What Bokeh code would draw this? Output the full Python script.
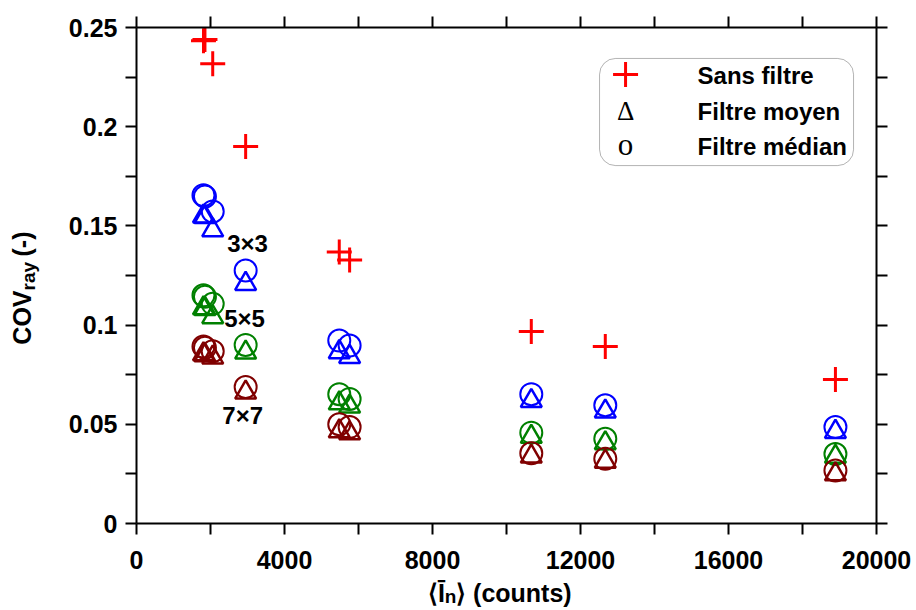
import math
from bokeh.plotting import figure
from bokeh.layouts import row, column
from bokeh.models import (Range1d, LinearAxis, FixedTicker, CustomJSTickFormatter,
                          Label, BoxAnnotation)
from bokeh.core.properties import value
from bokeh.embed import file_html
from bokeh.resources import INLINE

# ---------------- data ----------------
intensity = [1810, 1850, 2060, 2950, 5480, 5760, 10670, 12670, 18890]

cov_sans_filtre = [0.2433, 0.2440, 0.2317, 0.1900, 0.1368, 0.1328, 0.0968, 0.0892, 0.0726]

cov_median_3x3 = [0.1655, 0.1648, 0.1573, 0.1275, 0.0922, 0.0897, 0.0652, 0.0596, 0.0486]
cov_moyen_3x3 = [0.1548, 0.1545, 0.1478, 0.1208, 0.0864, 0.0840, 0.0618, 0.0565, 0.0462]

cov_median_5x5 = [0.1150, 0.1143, 0.1107, 0.0900, 0.0652, 0.0628, 0.0458, 0.0427, 0.0350]
cov_moyen_5x5 = [0.1085, 0.1082, 0.1040, 0.0862, 0.0606, 0.0590, 0.0437, 0.0405, 0.0337]

cov_median_7x7 = [0.0892, 0.0886, 0.0868, 0.0688, 0.0500, 0.0486, 0.0354, 0.0326, 0.0267]
cov_moyen_7x7 = [0.0853, 0.0848, 0.0837, 0.0660, 0.0465, 0.0455, 0.0338, 0.0312, 0.0248]

x_ticks = [0, 4000, 8000, 12000, 16000, 20000]
x_minor = [2000, 6000, 10000, 14000, 18000]
y_ticks = [0, 0.05, 0.1, 0.15, 0.2, 0.25]
y_minor = [0.025, 0.075, 0.125, 0.175, 0.225]

legend_labels = ["Sans filtre", "Filtre moyen", "Filtre médian"]
size_labels = ["3×3", "5×5", "7×7"]

# ---------------- styling ----------------
FONT = "Liberation Sans"
BLUE, GREEN, DARKRED, RED = "#0000ff", "#008000", "#800000", "#ff0000"

YLAB_W = 60
MAIN_W, MAIN_H = 852, 578
XLAB_H = 30
TOTAL_H = MAIN_H + XLAB_H

p = figure(width=MAIN_W, height=MAIN_H, output_backend="svg", toolbar_location=None,
           x_range=Range1d(0, 20000), y_range=Range1d(0, 0.25),
           x_axis_type=None, y_axis_type=None, title=None,
           min_border_left=76, min_border_right=36, min_border_top=27, min_border_bottom=55)
p.outline_line_color = None

fmt = CustomJSTickFormatter(code="return String(Math.round(tick*1000)/1000);")
blank = CustomJSTickFormatter(code="return '';")


def make_axis(ticks, minor, labels, standoff):
    ax = LinearAxis(ticker=FixedTicker(ticks=ticks, minor_ticks=minor),
                    formatter=fmt if labels else blank)
    ax.axis_line_width = 2
    ax.axis_line_color = "black"
    ax.major_tick_line_width = 2
    ax.minor_tick_line_width = 2
    ax.major_tick_out = 11
    ax.major_tick_in = 0
    ax.minor_tick_out = 11
    ax.minor_tick_in = 0
    ax.major_label_text_font = FONT
    ax.major_label_text_font_style = "bold"
    ax.major_label_text_color = "black"
    ax.major_label_text_font_size = "25px" if labels else "0px"
    ax.major_label_standoff = standoff
    return ax


p.add_layout(make_axis(x_ticks, x_minor, True, 16), "below")
p.add_layout(make_axis(y_ticks, y_minor, True, 8), "left")
p.add_layout(make_axis(x_ticks, x_minor, False, 0), "above")
p.add_layout(make_axis(y_ticks, y_minor, False, 0), "right")

# ---------------- data marks ----------------
p.scatter(intensity, cov_sans_filtre, marker="cross", size=25, line_color=RED, line_width=3)
for med, moy, col in [(cov_median_3x3, cov_moyen_3x3, BLUE),
                      (cov_median_5x5, cov_moyen_5x5, GREEN),
                      (cov_median_7x7, cov_moyen_7x7, DARKRED)]:
    p.scatter(intensity, moy, marker="triangle", size=21, fill_color=None,
              line_color=col, line_width=2.5)
    p.scatter(intensity, med, marker="circle", size=22, fill_color=None,
              line_color=col, line_width=2)

# size annotations
for txt, xx, yy in zip(size_labels, [3000, 2920, 2870], [0.1411, 0.1033, 0.0544]):
    p.add_layout(Label(x=xx, y=yy, text=txt, text_font=FONT, text_font_style="bold",
                       text_font_size="24px", text_align="center", text_baseline="middle",
                       text_color="black"))

# ---------------- legend (drawn by hand) ----------------
p.add_layout(BoxAnnotation(left=12515, right=19380, top=0.2344, bottom=0.1804,
                           fill_color="white", fill_alpha=1, line_color="black",
                           line_width=1, border_radius=16, level="underlay"))
sym_x = 13218
txt_x = 15164
row_mid = [0.2258, 0.2079, 0.1900]
p.scatter([sym_x], [0.2263], marker="cross", size=25, line_color=RED, line_width=3)
p.add_layout(Label(x=sym_x, y=0.2077, text="Δ", text_font="Liberation Serif",
                   text_font_size="27px", text_align="center", text_baseline="middle",
                   text_color="black"))
p.add_layout(Label(x=sym_x, y=0.1912, text="o", text_font="Liberation Serif",
                   text_font_size="31px", text_align="center", text_baseline="middle",
                   text_color="black"))
for txt, ym in zip(legend_labels, row_mid):
    p.add_layout(Label(x=txt_x, y=ym, text=txt, text_font=FONT, text_font_style="bold",
                       text_font_size="24px", text_align="left", text_baseline="middle",
                       text_color="black"))

# ---------------- y-axis title: COV_ray (-) ----------------
yl = figure(width=YLAB_W, height=TOTAL_H, output_backend="svg", toolbar_location=None,
            x_range=Range1d(0, YLAB_W), y_range=Range1d(0, TOTAL_H), title=None,
            x_axis_type=None, y_axis_type=None, min_border=0)
yl.outline_line_color = None
yl.grid.visible = False
ya = TOTAL_H - 290
yl.text(x=[21], y=[ya], text=["COV"], angle=math.pi / 2, text_font=value(FONT),
        text_font_style="bold", text_font_size="25px", text_align="right",
        text_baseline="middle", text_color="black")
yl.text(x=[28], y=[ya], text=["ray"], angle=math.pi / 2, text_font=value(FONT),
        text_font_style="bold", text_font_size="19px", text_align="left",
        text_baseline="middle", text_color="black")
yl.text(x=[21], y=[TOTAL_H - 256], text=["(-)"], angle=math.pi / 2, text_font=value(FONT),
        text_font_style="bold", text_font_size="25px", text_align="left",
        text_baseline="middle", text_color="black")

# ---------------- x-axis title: <I_n> (counts) ----------------
xl = figure(width=MAIN_W, height=XLAB_H, output_backend="svg", toolbar_location=None,
            x_range=Range1d(0, MAIN_W), y_range=Range1d(0, XLAB_H), title=None,
            x_axis_type=None, y_axis_type=None, min_border=0)
xl.outline_line_color = None
xl.grid.visible = False
xa = 415 - YLAB_W
xl.text(x=[xa], y=[TOTAL_H - 592], text=["⟨Ī"], text_font=value(FONT),
        text_font_style="bold", text_font_size="25px", text_align="right",
        text_baseline="middle", text_color="black")
xl.text(x=[xa], y=[TOTAL_H - 596], text=["n"], text_font=value(FONT),
        text_font_style="bold", text_font_size="19px", text_align="left",
        text_baseline="middle", text_color="black")
xl.text(x=[xa + 13], y=[TOTAL_H - 592], text=["⟩ (counts)"], text_font=value(FONT),
        text_font_style="bold", text_font_size="25px", text_align="left",
        text_baseline="middle", text_color="black")

layout = row(yl, column(p, xl, spacing=0), spacing=0)
open("out.html", "w").write(file_html(layout, INLINE))
